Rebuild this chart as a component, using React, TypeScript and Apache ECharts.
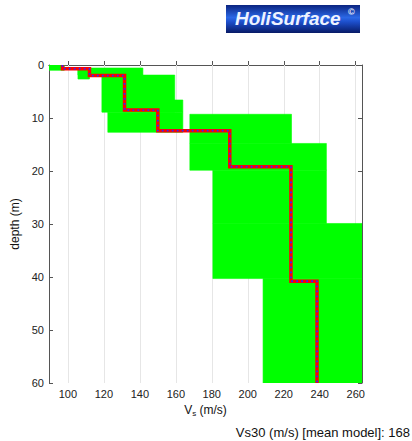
import React, { useEffect, useRef } from "react";
import * as echarts from "echarts";

// Mean model layers (Vs in m/s, depth bounds in m)
const layerVs = [97, 112, 131.5, 150, 190, 224, 238.5];
const layerTops = [0, 0.7, 2.0, 8.5, 12.4, 19.2, 40.8];
const layerBottoms = [0.7, 2.0, 8.5, 12.4, 19.2, 40.8, 60];

// Uncertainty boxes (green)
const boxVMin = [89.5, 105.6, 105.6, 118.9, 140, 122.2, 167.8, 167.8, 180.6, 180.6, 208.5];
const boxVMax = [98, 141.7, 112, 159.4, 163.9, 163.9, 224.3, 243.7, 243.7, 263.5, 263.5];
const boxDTop = [0, 0.57, 0.57, 1.9, 6.6, 8.9, 9.3, 14.8, 19.85, 29.9, 40.3];
const boxDBot = [1.0, 1.9, 2.65, 8.9, 8.9, 12.7, 14.8, 19.85, 29.9, 40.3, 60];

const xTicks = [100, 120, 140, 160, 180, 200, 220, 240, 260];

const FONT = "Liberation Sans, Arial, sans-serif";

export default function App() {
  const ref = useRef<HTMLDivElement>(null);

  useEffect(() => {
    if (!ref.current) return;
    const chart = echarts.init(ref.current, undefined, { renderer: "svg" });

    const boxes = boxVMin.map((v, i) => [v, boxVMax[i], boxDTop[i], boxDBot[i]]);
    const profile: number[][] = [];
    layerVs.forEach((v, i) => {
      profile.push([v, layerTops[i]]);
      profile.push([v, layerBottoms[i]]);
    });

    const axisLineStyle = { color: "#555", width: 1 };

    chart.setOption({
      animation: false,
      backgroundColor: "#ffffff",
      grid: { left: 49, top: 65, right: 50, bottom: 58, containLabel: false },
      xAxis: [
        {
          type: "value",
          position: "bottom",
          min: 89.5,
          max: 263.5,
          axisLine: { show: true, lineStyle: axisLineStyle },
          axisTick: { show: true, inside: true, length: 4, customValues: xTicks, lineStyle: axisLineStyle },
          axisLabel: { customValues: xTicks, fontSize: 11, color: "#222", margin: 5, fontFamily: FONT },
          splitLine: { show: false },
          name: "{a|V}{b|s}{a| (m/s)}",
          nameLocation: "middle",
          nameGap: 18,
          nameTextStyle: {
            rich: {
              a: { fontSize: 12, color: "#111", fontFamily: FONT },
              b: { fontSize: 8, color: "#111", fontFamily: FONT, padding: [7, 0, 0, 0] },
            },
          },
        },
        {
          type: "value",
          position: "top",
          min: 89.5,
          max: 263.5,
          axisLine: { show: true, lineStyle: axisLineStyle },
          axisTick: { show: true, inside: true, length: 4, customValues: xTicks, lineStyle: axisLineStyle },
          axisLabel: { show: false },
          splitLine: { show: false },
        },
      ],
      yAxis: [
        {
          type: "value",
          position: "left",
          inverse: true,
          min: 0,
          max: 60,
          interval: 10,
          axisLine: { show: true, lineStyle: axisLineStyle },
          axisTick: { show: true, inside: true, length: 4, lineStyle: axisLineStyle },
          axisLabel: { fontSize: 11, color: "#222", margin: 5, fontFamily: FONT },
          splitLine: { show: false },
          name: "depth (m)",
          nameLocation: "middle",
          nameGap: 23,
          nameRotate: 90,
          nameTextStyle: { fontSize: 12, color: "#111", fontFamily: FONT },
        },
        {
          type: "value",
          position: "right",
          inverse: true,
          min: 0,
          max: 60,
          interval: 10,
          axisLine: { show: true, lineStyle: axisLineStyle },
          axisTick: { show: true, inside: true, length: 4, lineStyle: axisLineStyle },
          axisLabel: { show: false },
          splitLine: { show: false },
        },
      ],
      series: [
        {
          type: "line",
          xAxisIndex: 0,
          yAxisIndex: 0,
          data: [],
          silent: true,
          z: 1,
          markLine: {
            silent: true,
            z: 1,
            symbol: ["none", "none"],
            label: { show: false },
            lineStyle: { color: "#e6e6e6", width: 1, type: "solid" },
            data: xTicks.map((t) => ({ xAxis: t })),
          },
        },
        {
          type: "custom",
          xAxisIndex: 0,
          yAxisIndex: 0,
          data: boxes,
          silent: true,
          clip: true,
          z: 5,
          renderItem: (params: any, api: any) => {
            const p1 = api.coord([api.value(0), api.value(2)]);
            const p2 = api.coord([api.value(1), api.value(3)]);
            const rect = {
              x: Math.min(p1[0], p2[0]),
              y: Math.min(p1[1], p2[1]),
              width: Math.abs(p2[0] - p1[0]),
              height: Math.abs(p2[1] - p1[1]),
            };
            const cs = params.coordSys;
            const clipped = echarts.graphic.clipRectByRect(rect, {
              x: cs.x,
              y: cs.y,
              width: cs.width,
              height: cs.height,
            });
            if (!clipped) return null;
            return {
              type: "rect",
              shape: clipped,
              style: { fill: "#00ff00", stroke: "#00ff00", lineWidth: 0.6 },
            };
          },
        },
        {
          type: "line",
          xAxisIndex: 0,
          yAxisIndex: 0,
          data: profile,
          symbol: "none",
          silent: true,
          z: 6,
          lineStyle: { color: "#ff0000", width: 3.5, cap: "butt", join: "miter" },
        },
        {
          type: "line",
          xAxisIndex: 0,
          yAxisIndex: 0,
          data: profile,
          symbol: "none",
          silent: true,
          z: 7,
          lineStyle: { color: "#2a2aff", width: 1.8, type: [1.8, 3.2] },
        },
      ],
      graphic: [
        {
          type: "rect",
          left: 226,
          top: 5,
          shape: { width: 134, height: 28 },
          style: {
            fill: new echarts.graphic.LinearGradient(0, 0, 0, 1, [
              { offset: 0, color: "#0a2380" },
              { offset: 0.45, color: "#2b68e6" },
              { offset: 0.6, color: "#1d4fcc" },
              { offset: 1, color: "#071a66" },
            ]),
          },
        },
        {
          type: "text",
          left: 235,
          top: 9,
          style: {
            text: "HoliSurface",
            font: `italic bold 19px ${FONT}`,
            fill: "#eef3ff",
          },
        },
        {
          type: "text",
          left: 348,
          top: 7,
          style: {
            text: "©",
            font: `bold 9px ${FONT}`,
            fill: "#eef3ff",
          },
        },
        {
          type: "text",
          right: 2,
          top: 426,
          style: {
            text: "Vs30 (m/s) [mean model]: 168",
            font: `13px ${FONT}`,
            fill: "#111",
          },
        },
      ],
    });

    return () => chart.dispose();
  }, []);

  return (
    <div
      ref={ref}
      style={{ position: "fixed", left: 0, top: 0, width: 412, height: 441, background: "#fff" }}
    />
  );
}
